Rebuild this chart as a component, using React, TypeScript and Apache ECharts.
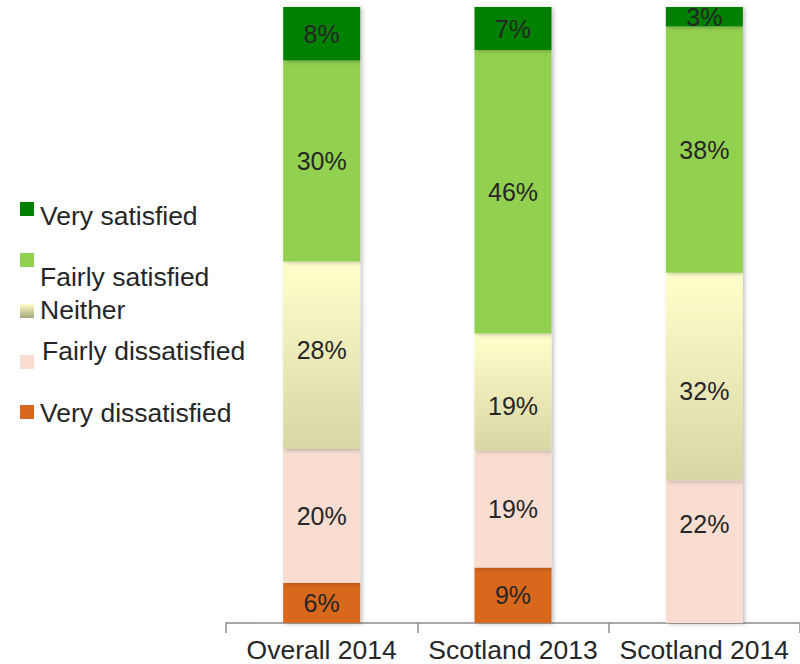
import React, { useEffect, useRef } from "react";
import * as echarts from "echarts";

const categories = ["Overall 2014", "Scotland 2013", "Scotland 2014"];
const seriesNames = ["Very dissatisfied", "Fairly dissatisfied", "Neither", "Fairly satisfied", "Very satisfied"];
const veryDissatisfied = [6, 9, 0];
const fairlyDissatisfied = [20, 19, 22];
const neither = [28, 19, 32];
const fairlySatisfied = [30, 46, 38];
const verySatisfied = [8, 7, 3];

const legendOrder = ["Very satisfied", "Fairly satisfied", "Neither", "Fairly dissatisfied", "Very dissatisfied"];

// manual label nudges (pixels), keyed "seriesIndex-categoryIndex"
const labelNudge: Record<string, number> = { "2-0": -5, "2-1": 14, "2-2": 14, "1-2": -28 };

export default function App() {
  const ref = useRef<HTMLDivElement>(null);
  useEffect(() => {
    const chart = echarts.init(ref.current!, null, { renderer: "svg" });
    const raw = [veryDissatisfied, fairlyDissatisfied, neither, fairlySatisfied, verySatisfied];
    const totals = categories.map((_, i) => raw.reduce((s, arr) => s + arr[i], 0));
    const neitherGrad = new echarts.graphic.LinearGradient(0, 0, 0, 1, [
      { offset: 0, color: "#ffffcc" },
      { offset: 1, color: "#d8d6a4" },
    ]);
    const colors: any[] = ["#d8681e", "#f8ddd0", neitherGrad, "#92d050", "#008000"];
    const series = raw.map((arr, si) => ({
      name: seriesNames[si],
      type: "bar",
      stack: "total",
      barWidth: 77,
      data: arr.map((v, i) => {
        const nudge = labelNudge[si + "-" + i] || 0;
        return {
          value: (v / totals[i]) * 100,
          raw: v,
          label: nudge ? { offset: [0, nudge] } : undefined,
        };
      }),
      itemStyle: {
        color: colors[si],
        shadowBlur: 4,
        shadowOffsetX: 2,
        shadowOffsetY: 1,
        shadowColor: "rgba(0,0,0,0.25)",
      },
      label: {
        show: true,
        position: "inside",
        fontFamily: "Liberation Sans, Arial, sans-serif",
        fontSize: 25,
        color: "#262626",
        formatter: (p: any) => (p.data.raw > 0 ? p.data.raw + "%" : ""),
      },
    }));

    const legendY = [209, 260, 311, 362, 412];
    const textY = [216, 277, 310, 351, 413];
    const legendColors: any[] = ["#008000", "#92d050", null, "#f8ddd0", "#d8681e"];
    const graphics: any[] = [];
    legendOrder.forEach((name, i) => {
      graphics.push({
        type: "rect",
        left: 20,
        top: legendY[i] - 7,
        shape: { x: 0, y: 0, width: 14, height: 14 },
        style: {
          fill:
            legendColors[i] ||
            new echarts.graphic.LinearGradient(0, 0, 0, 1, [
              { offset: 0, color: "#ffffcc" },
              { offset: 1, color: "#a8a67a" },
            ]),
        },
      });
      graphics.push({
        type: "text",
        x: name === "Fairly dissatisfied" ? 42 : 40,
        y: textY[i],
        style: {
          text: name,
          fontFamily: "Liberation Sans, Arial, sans-serif",
          fontSize: 26.5,
          fill: "#262626",
          textVerticalAlign: "middle",
        },
      });
    });

    chart.setOption({
      animation: false,
      grid: { left: 226, right: -3, top: 7, bottom: 41 },
      xAxis: {
        type: "category",
        data: categories,
        axisLine: { lineStyle: { color: "#8c8c8c", width: 1.5 } },
        axisTick: { show: true, length: 10, lineStyle: { color: "#8c8c8c", width: 1.5 } },
        axisLabel: {
          fontFamily: "Liberation Sans, Arial, sans-serif",
          fontSize: 26.5,
          color: "#262626",
          margin: 13,
          interval: 0,
        },
      },
      yAxis: { type: "value", min: 0, max: 100, show: false, splitLine: { show: false } },
      series,
      graphic: graphics,
    });
    return () => chart.dispose();
  }, []);
  return (
    <div ref={ref} style={{ position: "absolute", left: 0, top: 0, width: 800, height: 664 }} />
  );
}
